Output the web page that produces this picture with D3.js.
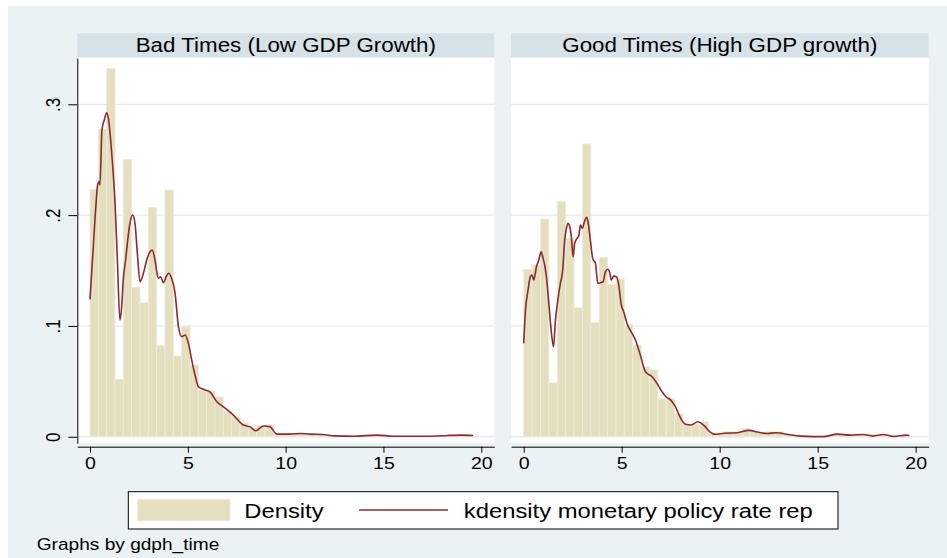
<!DOCTYPE html>
<html>
<head>
<meta charset="utf-8">
<script src="https://cdn.jsdelivr.net/npm/d3@7"></script>
<style>
  html, body { margin: 0; padding: 0; background: #ffffff; }
  svg { display: block; font-family: "Liberation Sans", Arial, Helvetica, sans-serif; }
</style>
</head>
<body>
<svg id="chart" width="947" height="558"></svg>
<script>
// ---------------- DATA ----------------
const panelTitles = ["Bad Times (Low GDP Growth)", "Good Times (High GDP growth)"];
const xTicks = [0, 5, 10, 15, 20];
const xTickLabels = ["0", "5", "10", "15", "20"];
const yTicks = [0, 0.1, 0.2, 0.3];
const yTickLabels = ["0", ".1", ".2", ".3"];
const legendLabels = ["Density", "kdensity monetary policy rate rep"];
const noteText = "Graphs by gdph_time";

// histogram bin widths (bins start at 0)
const binWidthBad = 0.4259;
const binWidthGood = 0.4278;

// histogram densities, Bad Times
const densBad = [0.2233, 0.2777, 0.3325, 0.0520, 0.2504, 0.1349, 0.1213, 0.2067, 0.0821, 0.2227,
  0.0728, 0.0993, 0.0647, 0.0418, 0.0406, 0.0360, 0.0230, 0.0185, 0.0125, 0.0080,
  0.0100, 0.0108, 0.0025, 0.0025, 0.0028, 0.0025, 0.0022, 0.0020, 0.0012, 0.0008,
  0.0006, 0.0006, 0.0010, 0.0012, 0.0008, 0.0004, 0.0003, 0.0003, 0.0004, 0.0004,
  0.0003, 0.0003, 0.0006, 0.0008, 0.0010, 0.0008];

// histogram densities, Good Times
const densGood = [0.1511, 0.1550, 0.1965, 0.0487, 0.2121, 0.1790, 0.1164, 0.2642, 0.1029, 0.1619,
  0.1376, 0.1424, 0.1014, 0.0828, 0.0632, 0.0602, 0.0347, 0.0347, 0.0208, 0.0110,
  0.0110, 0.0135, 0.0030, 0.0028, 0.0047, 0.0047, 0.0076, 0.0047, 0.0040, 0.0045,
  0.0045, 0.0020, 0.0020, 0.0012, 0.0008, 0.0004, 0.0010, 0.0018, 0.0020, 0.0018,
  0.0015, 0.0020, 0.0012, 0.0010, 0.0015, 0.0012];

// kernel density, Bad Times
const kdBadX = [0, 0.17, 0.31, 0.39, 0.46, 0.51, 0.61, 0.73, 0.85, 0.94,
  1.11, 1.28, 1.40, 1.53, 1.62, 1.70, 1.82, 1.91, 2.04, 2.18,
  2.30, 2.42, 2.56, 2.73, 2.90, 3.07, 3.19, 3.32, 3.49, 3.61,
  3.75, 3.89, 4.02, 4.17, 4.35, 4.52, 4.69, 4.86, 5.03, 5.20,
  5.37, 5.54, 5.79, 6.13, 6.48, 6.82, 7.33, 7.84, 8.18, 8.47,
  8.86, 9.20, 9.55, 10.23, 10.74, 11.25, 11.9, 12.5, 13.5, 14.65,
  15.5, 16.5, 17.5, 18.3, 19.0, 19.59];
const kdBadY = [0.124, 0.1715, 0.2106, 0.2272, 0.230, 0.2272, 0.2768, 0.2858, 0.2924, 0.2873,
  0.2558, 0.2106, 0.1595, 0.1053, 0.1173, 0.1414, 0.1595, 0.1745, 0.1926, 0.2001,
  0.1926, 0.1655, 0.1399, 0.1475, 0.1595, 0.167, 0.1685, 0.1595, 0.143, 0.1444,
  0.139, 0.1444, 0.1475, 0.143, 0.1294, 0.0993, 0.0903, 0.0918, 0.0843, 0.0692,
  0.0557, 0.0451, 0.0428, 0.0406, 0.0316, 0.027, 0.0196, 0.0106, 0.009, 0.0054,
  0.0097, 0.009, 0.0024, 0.0024, 0.003, 0.0024, 0.0020, 0.0008, 0.0005, 0.0015,
  0.0005, 0.0004, 0.0005, 0.0012, 0.0015, 0.0012];

// kernel density, Good Times
const kdGoodX = [0, 0.09, 0.22, 0.34, 0.43, 0.51, 0.65, 0.77, 0.89, 0.97,
  1.07, 1.16, 1.28, 1.40, 1.52, 1.62, 1.74, 1.87, 1.99, 2.09,
  2.18, 2.26, 2.35, 2.43, 2.52, 2.60, 2.72, 2.81, 2.89, 2.99,
  3.10, 3.20, 3.28, 3.40, 3.52, 3.66, 3.78, 3.91, 4.05, 4.17,
  4.29, 4.39, 4.47, 4.59, 4.73, 4.85, 4.98, 5.10, 5.27, 5.44,
  5.70, 5.95, 6.21, 6.55, 6.80, 7.06, 7.26, 7.48, 7.74, 8.00,
  8.25, 8.55, 8.88, 9.22, 9.50, 9.78, 10.2, 10.9, 11.49, 12.0,
  12.42, 12.9, 13.5, 14.13, 15.3, 16.0, 16.67, 17.35, 17.8, 18.35,
  18.9, 19.55, 19.68];
const kdGoodY = [0.0843, 0.1143, 0.1324, 0.1444, 0.1459, 0.1414, 0.1534, 0.1595, 0.167, 0.1624,
  0.155, 0.1444, 0.1204, 0.0963, 0.0812, 0.1053, 0.1234, 0.1384, 0.1504, 0.1775,
  0.1881, 0.1926, 0.1895, 0.1805, 0.1624, 0.1745, 0.179, 0.1811, 0.191, 0.1881,
  0.194, 0.198, 0.194, 0.1775, 0.161, 0.1565, 0.1384, 0.139, 0.1399, 0.149,
  0.1511, 0.148, 0.1414, 0.145, 0.1444, 0.1369, 0.1189, 0.1128, 0.1023, 0.096,
  0.0873, 0.0737, 0.0587, 0.0542, 0.0482, 0.0406, 0.0361, 0.0335, 0.0271, 0.0170,
  0.0113, 0.0106, 0.0135, 0.0098, 0.0045, 0.0022, 0.0031, 0.0036, 0.0058, 0.004,
  0.003, 0.0036, 0.002, 0.0006, 0.0001, 0.0024, 0.0015, 0.002, 0.0006, 0.002,
  0.0002, 0.0015, 0.0012];

// ---------------- STYLE / LAYOUT ----------------
const W = 947, H = 558;
const bgColor = "#eaf2f3";
const stripColor = "#d6e2e8";
const gridColor = "#e3ecef";
const barFill = "#e4dfbf";
const barStroke = "#efecd9";
const lineColor = "#8c2a33";
const SX = 1.15; // horizontal glyph stretch of the reference

const panels = [
  { title: panelTitles[0], dens: densBad, bw: binWidthBad, kx: kdBadX, ky: kdBadY, left: 77.3, right: 494.3, yAxis: true },
  { title: panelTitles[1], dens: densGood, bw: binWidthGood, kx: kdGoodX, ky: kdGoodY, left: 511, right: 928.7, yAxis: false }
];
const plotTop = 58, plotBottom = 443.3;
const stripTop = 33.3, stripBottom = 57.3;
const xAxisY = 446.7;
const xDomain = [-0.649, 20.665];
const yDomain = [-0.0059, 0.3418];

const svg = d3.select("#chart");

// background
svg.append("rect").attr("x", 8).attr("y", 6).attr("width", W - 8).attr("height", H - 6).attr("fill", bgColor);

const y = d3.scaleLinear().domain(yDomain).range([plotBottom, plotTop]);

panels.forEach((p, pi) => {
  const x = d3.scaleLinear().domain(xDomain).range([p.left, p.right]);
  const g = svg.append("g");

  // title strip
  g.append("rect").attr("x", p.left).attr("y", stripTop)
    .attr("width", p.right - p.left).attr("height", stripBottom - stripTop).attr("fill", stripColor);
  g.append("text")
    .attr("transform", `translate(${(p.left + p.right) / 2},52.2) scale(1.147,1)`)
    .attr("text-anchor", "middle").attr("font-size", 19.5).attr("fill", "#000")
    .text(p.title);

  // plot region
  g.append("rect").attr("x", p.left).attr("y", plotTop)
    .attr("width", p.right - p.left).attr("height", plotBottom - plotTop).attr("fill", "#ffffff");

  // grid lines
  g.selectAll("line.grid").data(yTicks).join("line").attr("class", "grid")
    .attr("x1", p.left).attr("x2", p.right)
    .attr("y1", d => y(d)).attr("y2", d => y(d))
    .attr("stroke", gridColor).attr("stroke-width", 1.3);

  // histogram bars
  g.selectAll("rect.bar").data(p.dens).join("rect").attr("class", "bar")
    .attr("x", (d, i) => x(i * p.bw))
    .attr("width", (d, i) => x((i + 1) * p.bw) - x(i * p.bw))
    .attr("y", d => y(d))
    .attr("height", d => y(0) - y(d))
    .attr("fill", barFill).attr("stroke", barStroke).attr("stroke-width", 0.8);

  // kernel density line
  const pts = p.kx.map((v, i) => [v, p.ky[i]]);
  g.append("path").datum(pts)
    .attr("d", d3.line().x(d => x(d[0])).y(d => y(d[1])).curve(d3.curveMonotoneX))
    .attr("fill", "none").attr("stroke", lineColor).attr("stroke-width", 1.6)
    .attr("stroke-linejoin", "round");

  // x axis
  const xa = g.append("g").attr("transform", `translate(0,${xAxisY})`)
    .call(d3.axisBottom(x).tickValues(xTicks).tickFormat((d, i) => xTickLabels[i])
      .tickSize(6).tickSizeOuter(0).tickPadding(4));
  xa.select(".domain").attr("stroke", "#000");
  xa.selectAll(".tick line").attr("stroke", "#000");
  xa.selectAll(".tick text").attr("font-size", 17).attr("fill", "#000")
    .attr("font-family", "Liberation Sans, Arial, sans-serif")
    .attr("transform", `scale(${SX},1)`);

  // y axis
  if (p.yAxis) {
    const ya = g.append("g").attr("transform", `translate(${p.left},0)`)
      .call(d3.axisLeft(y).tickValues(yTicks).tickFormat((d, i) => yTickLabels[i])
        .tickSize(9).tickSizeOuter(0));
    ya.select(".domain").attr("stroke", "#000");
    ya.selectAll(".tick line").attr("stroke", "#000");
    ya.selectAll(".tick text")
      .attr("x", null).attr("y", null).attr("dy", "0.35em")
      .attr("text-anchor", "middle").attr("font-size", 17).attr("fill", "#000")
      .attr("font-family", "Liberation Sans, Arial, sans-serif")
      .attr("transform", `translate(-24.3,0) scale(${SX},1) rotate(-90)`);
  }
});

// legend
const lg = svg.append("g");
lg.append("rect").attr("x", 128.3).attr("y", 491.7).attr("width", 838 - 128.3).attr("height", 529 - 491.7)
  .attr("fill", "#ffffff").attr("stroke", "#000").attr("stroke-width", 1);
lg.append("rect").attr("x", 137.7).attr("y", 499.3).attr("width", 230 - 137.7).attr("height", 520.7 - 499.3)
  .attr("fill", barFill).attr("stroke", barStroke).attr("stroke-width", 0.8);
lg.append("text").attr("transform", "translate(244.3,517.5) scale(1.19,1)")
  .attr("font-size", 20).attr("fill", "#000").text(legendLabels[0]);
lg.append("line").attr("x1", 359).attr("x2", 448).attr("y1", 510).attr("y2", 510)
  .attr("stroke", lineColor).attr("stroke-width", 1.6);
lg.append("text").attr("transform", "translate(463.8,517.5) scale(1.19,1)")
  .attr("font-size", 20).attr("fill", "#000").text(legendLabels[1]);

// note
svg.append("text").attr("transform", "translate(36.7,549.5) scale(1.124,1)")
  .attr("font-size", 17).attr("fill", "#000").text(noteText);
</script>
</body>
</html>
